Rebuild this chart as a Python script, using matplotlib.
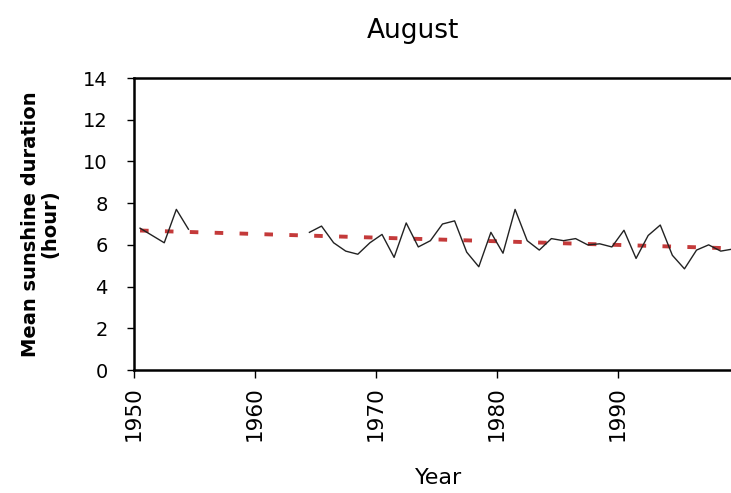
import numpy as np
import matplotlib
matplotlib.use("Agg")
import matplotlib.pyplot as plt

# August mean sunshine duration per year (hours); NaN where no record
years = list(range(1950, 2000))
sunshine = [
    6.8, 6.45, 6.1, 7.7, 6.75,                     # 1950-1954
    np.nan, np.nan, np.nan, np.nan, np.nan,        # 1955-1959
    np.nan, np.nan, np.nan, np.nan,                # 1960-1963
    6.6, 6.9, 6.1, 5.7, 5.55, 6.1,                 # 1964-1969
    6.5, 5.4, 7.05, 5.9, 6.2, 7.0, 7.15, 5.65, 4.95, 6.6,   # 1970-1979
    5.6, 7.7, 6.2, 5.75, 6.3, 6.2, 6.3, 6.0, 6.05, 5.9,     # 1980-1989
    6.7, 5.35, 6.45, 6.95, 5.5, 4.85, 5.75, 6.0, 5.7, 5.8,  # 1990-1999
]
tick_years = [1950, 1960, 1970, 1980, 1990]
y_ticks = [0, 2, 4, 6, 8, 10, 12, 14]

x = np.array(years, dtype=float)
y = np.array(sunshine, dtype=float)
ok = ~np.isnan(y)
slope, intercept = np.polyfit(x[ok], y[ok], 1)
trend = slope * x + intercept

fig = plt.figure(figsize=(7.31, 4.93), dpi=100)
ax = fig.add_axes([134 / 731, 123 / 493, 617 / 731, 292 / 493])

ax.plot(x, trend, color="#c43a3a", lw=2.8, linestyle=(0, (2.2, 4.2)), zorder=2)
ax.plot(x, y, color="#222222", lw=1.0, zorder=3)

ax.set_xlim(1949.5, 2000.5)
ax.set_ylim(0, 14)
ax.set_xticks([t - 0.5 for t in tick_years])
ax.set_xticklabels([str(t) for t in tick_years], rotation=90,
                   fontsize=15.5, family="DejaVu Sans", fontweight="medium")
ax.set_yticks(y_ticks)
ax.set_yticklabels([str(v) for v in y_ticks], fontsize=14, family="DejaVu Sans")
ax.tick_params(axis="x", direction="out", length=6, width=1, pad=6)
ax.tick_params(axis="y", direction="out", length=5, width=1, pad=14)

for s in ax.spines.values():
    s.set_linewidth(1.8)
ax.spines["right"].set_visible(False)

ax.set_ylabel("Mean sunshine duration\n(hour)", fontsize=14,
              fontweight="bold", linespacing=1.05, va="center")
ax.yaxis.set_label_coords(-0.152, 0.5)
ax.set_xlabel("Year", fontsize=16, fontweight="medium", va="center")
ax.xaxis.set_label_coords(0.493, -0.37)
fig.text(413 / 731, 1 - 31 / 493, "August", ha="center", va="center", fontsize=19)

fig.savefig("out.png", dpi=100)
